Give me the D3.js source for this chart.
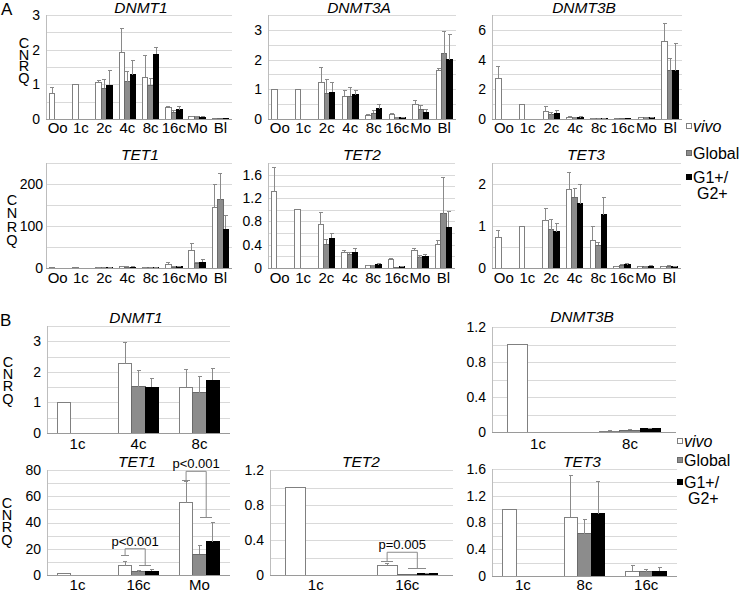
<!DOCTYPE html>
<html>
<head>
<meta charset="utf-8">
<title>CNRQ of DNMT and TET genes</title>
<script src="https://cdn.jsdelivr.net/npm/d3@7"></script>
<style>
    body { margin: 0; background: #fff; }
    text { font-family: 'Liberation Sans', Arial, sans-serif; fill: #000; }
    .grid line { stroke: #d9d9d9; shape-rendering: crispEdges; }
    .grid path, .yt path, .yt line, .xl path, .xl line { display: none; }
    .yt text { font-size: 14px; }
    .xl text { font-size: 15px; }
    .title { font-size: 15.5px; font-style: italic; }
    .cnrq { font-size: 14.5px; writing-mode: vertical-rl; text-orientation: upright; }
    .panel { font-size: 17px; }
    .leg { font-size: 16px; }
    .pval { font-size: 13px; }
    rect, line { shape-rendering: crispEdges; }
</style>
</head>
<body>
<script>
"use strict";
const series = ["vivo", "Global", "G1+/G2+"];

// panel A: stages, means per stage [vivo, Global, G1+/G2+] and SD
const aCats = ["Oo", "1c", "2c", "4c", "8c", "16c", "Mo", "Bl"];

const aDNMT1 = [[0.74], [1.0], [1.05, 0.88, 0.98], [1.92, 1.07, 1.27], [1.2, 0.98, 1.87], [0.34, 0.19, 0.26], [0.06, 0.07, 0.05], [0.01, 0.01, 0.01]];
const aDNMT1Sd = [[0.17], [0], [0.07, 0.26, 0.41], [0.69, 0.31, 0.41], [0.62, 0.19, 0.2], [0.03, 0.05, 0.11], [0.01, 0.01, 0.01], [0, 0, 0]];

const aDNMT3A = [[1.0], [1.0], [1.23, 0.87, 0.9], [0.77, 0.77, 0.82], [0.12, 0.19, 0.34], [0.15, 0.04, 0.04], [0.48, 0.32, 0.23], [1.64, 2.19, 1.99]];
const aDNMT3ASd = [[0], [0], [0.49, 0.46, 0.33], [0.2, 0.3, 0.15], [0.04, 0.1, 0.14], [0.05, 0.01, 0.01], [0.15, 0.13, 0.1], [0.07, 0.77, 0.84]];

const aDNMT3B = [[2.74], [1.0], [0.5, 0.27, 0.38], [0.12, 0.08, 0.1], [0.04, 0.04, 0.05], [0.02, 0.01, 0.01], [0.08, 0.1, 0.1], [5.25, 3.25, 3.25]];
const aDNMT3BSd = [[0.78], [0], [0.33, 0.16, 0.22], [0.03, 0.03, 0.04], [0.01, 0.01, 0.01], [0, 0, 0], [0.02, 0.03, 0.03], [1.2, 0.85, 1.85]];

const aTET1 = [[0.7], [1.0], [1.0, 1.2, 1.3], [2.5, 2.0, 1.5], [1.0, 1.5, 1.2], [9, 2, 3], [42, 11, 14], [144, 162, 92]];
const aTET1Sd = [[0], [0], [0.3, 0.3, 0.3], [1, 1, 1], [0.5, 0.5, 0.5], [5, 1, 1], [16, 2, 6], [56, 62, 32]];

const aTET2 = [[1.31], [1.0], [0.74, 0.41, 0.51], [0.26, 0.24, 0.27], [0.04, 0.04, 0.06], [0.15, 0.01, 0.02], [0.3, 0.18, 0.2], [0.41, 0.93, 0.7]];
const aTET2Sd = [[0.41], [0], [0.22, 0.08, 0.08], [0.04, 0.03, 0.06], [0.01, 0.01, 0.01], [0.01, 0, 0.01], [0.04, 0.03, 0.04], [0.07, 0.63, 0.27]];

const aTET3 = [[0.73], [1.0], [1.13, 0.91, 0.86], [1.86, 1.68, 1.53], [0.66, 0.54, 1.27], [0.03, 0.06, 0.08], [0.03, 0.03, 0.04], [0.03, 0.04, 0.03]];
const aTET3Sd = [[0.16], [0], [0.28, 0.25, 0.21], [0.41, 0.22, 0.47], [0.33, 0.07, 0.4], [0.01, 0.02, 0.03], [0.01, 0.01, 0.01], [0.01, 0.01, 0.01]];

// panel B
const bDNMT1Cats = ["1c", "4c", "8c"];
const bDNMT1 = [[1.0], [2.27, 1.51, 1.49], [1.5, 1.31, 1.72]];
const bDNMT1Sd = [[0], [0.69, 0.53, 0.3], [0.59, 0.55, 0.4]];

const bDNMT3BCats = ["1c", "8c"];
const bDNMT3B = [[1.0], [0.01, 0.02, 0.035]];
const bDNMT3BSd = [[0], [0.005, 0.005, 0.01]];

const bTET1Cats = ["1c", "16c", "Mo"];
const bTET1 = [[1.0], [7, 2.3, 3], [55, 16, 25.5]];
const bTET1Sd = [[0], [3, 1, 1.5], [16.5, 6.5, 14.5]];

const bTET2Cats = ["1c", "16c"];
const bTET2 = [[1.0], [0.11, 0.01, 0.015]];
const bTET2Sd = [[0], [0.02, 0, 0.005]];

const bTET3Cats = ["1c", "8c", "16c"];
const bTET3 = [[1.0], [0.88, 0.63, 0.93], [0.07, 0.06, 0.07]];
const bTET3Sd = [[0], [0.63, 0.21, 0.49], [0.08, 0.03, 0.05]];

// significance brackets: left leg (vivo), right leg (Global/G1+), bracket top
const bTET1Pvals = [
    { stage: "16c", left: 14.5, right: 7.6, top: 20, label: "p<0.001" },
    { stage: "Mo", left: 72, right: 44, top: 79, label: "p<0.001" }
];
const bTET2Pvals = [
    { stage: "16c", left: 0.16, right: 0.07, top: 0.26, label: "p=0.005" }
];

const fills = { "vivo": "#ffffff", "Global": "#8c8c8c", "G1+/G2+": "#000000" };
const strokes = { "vivo": "#808080", "Global": "#6a6a6a", "G1+/G2+": "#000000" };

const svg = d3.select("body").append("svg")
    .attr("width", 740)
    .attr("height", 592);

function fmt(d) { return String(+d.toFixed(2)); }

function drawPanel(c) {
    const g = svg.append("g");
    const x = d3.scaleBand().domain(c.cats).range([c.x0, c.x1]);
    const gw = x.bandwidth() * c.frac;
    const inner = d3.scaleBand().domain(series).range([0, gw]);
    const off = (x.bandwidth() - gw) / 2;
    const y = d3.scaleLinear().domain([0, c.max]).range([c.yBot, c.yTop]);

    const nGrid = Math.round(c.max / c.grid);
    g.append("g")
        .attr("class", "grid")
        .attr("transform", "translate(" + c.x0 + ",0)")
        .call(d3.axisLeft(y)
            .tickValues(d3.range(0, nGrid + 1).map(i => i * c.grid))
            .tickSize(-(c.x1 - c.x0)).tickFormat(""));

    const nTick = Math.floor(c.max / c.tick + 1e-9);
    g.append("g")
        .attr("class", "yt")
        .attr("transform", "translate(" + c.x0 + ",0)")
        .call(d3.axisLeft(y)
            .tickValues(d3.range(0, nTick + 1).map(i => i * c.tick))
            .tickSize(0).tickPadding(c.pad || 6).tickFormat(fmt));

    g.append("line")
        .attr("x1", c.x0).attr("x2", c.x0)
        .attr("y1", c.yTop).attr("y2", c.yBot)
        .attr("stroke", "#bdbdbd");

    const xa = g.append("g")
        .attr("class", "xl")
        .attr("transform", "translate(0," + c.yBot + ")")
        .call(d3.axisBottom(x).tickSize(0));
    xa.selectAll("text").attr("y", c.xLab - c.yBot).attr("dy", null);

    const flat = [];
    c.vals.forEach((row, i) => {
        row.forEach((v, j) => {
            if (v != null) flat.push({ cat: c.cats[i], s: series[j], v: v, sd: c.sds[i][j] || 0 });
        });
    });
    const bx = d => x(d.cat) + off + inner(d.s);
    const bw = inner.bandwidth();

    g.selectAll("rect.bar").data(flat).enter().append("rect")
        .attr("class", "bar")
        .attr("x", bx)
        .attr("y", d => y(d.v))
        .attr("width", bw)
        .attr("height", d => c.yBot - y(d.v))
        .attr("fill", d => fills[d.s])
        .attr("stroke", d => strokes[d.s])
        .attr("stroke-width", 1);

    const errs = flat.filter(d => d.sd > 0);
    g.selectAll("line.err").data(errs).enter().append("line")
        .attr("class", "err")
        .attr("x1", d => bx(d) + bw / 2).attr("x2", d => bx(d) + bw / 2)
        .attr("y1", d => y(d.v)).attr("y2", d => y(d.v + d.sd))
        .attr("stroke", "#8a8a8a");
    g.selectAll("line.cap").data(errs).enter().append("line")
        .attr("class", "cap")
        .attr("x1", d => bx(d) + bw / 2 - 2).attr("x2", d => bx(d) + bw / 2 + 2)
        .attr("y1", d => y(d.v + d.sd)).attr("y2", d => y(d.v + d.sd))
        .attr("stroke", "#8a8a8a");

    // bottom axis line
    g.append("line")
        .attr("x1", c.x0).attr("x2", c.x1)
        .attr("y1", c.yBot).attr("y2", c.yBot)
        .attr("stroke", "#9a9a9a");

    g.append("text")
        .attr("class", "title")
        .attr("x", c.titleX).attr("y", c.titleY)
        .attr("text-anchor", "middle")
        .text(c.title);

    (c.pvals || []).forEach(p => {
        const lx = x(p.stage) + off + inner("vivo") + bw / 2;
        const rx = x(p.stage) + off + inner("G1+/G2+");
        const path = d3.path();
        path.moveTo(lx, y(p.left));
        path.lineTo(lx, y(p.top));
        path.lineTo(rx, y(p.top));
        path.lineTo(rx, y(p.right));
        g.append("path").attr("d", path.toString())
            .attr("fill", "none").attr("stroke", "#8a8a8a");
        g.append("line")
            .attr("x1", lx - bw * 0.3).attr("x2", lx + bw * 0.3)
            .attr("y1", y(p.left)).attr("y2", y(p.left))
            .attr("stroke", "#8a8a8a");
        g.append("line")
            .attr("x1", rx - bw * 0.45).attr("x2", rx + bw * 0.45)
            .attr("y1", y(p.right)).attr("y2", y(p.right))
            .attr("stroke", "#8a8a8a");
        g.append("text")
            .attr("class", "pval")
            .attr("x", (lx + rx) / 2).attr("y", y(p.top) - 3)
            .attr("text-anchor", "middle")
            .text(p.label);
    });
}

// stacked (upright vertical) axis title
function cnrq(cx, top, spacing) {
    svg.append("text")
        .attr("class", "cnrq")
        .attr("x", cx).attr("y", top)
        .style("letter-spacing", spacing + "px")
        .text("CNRQ");
}

function legend(sx, tx, ys) {
    const g = svg.append("g");
    series.forEach((s, i) => {
        g.append("rect")
            .attr("x", sx).attr("y", ys[i] - 2.5)
            .attr("width", 5).attr("height", 5)
            .attr("fill", fills[s]).attr("stroke", strokes[s]);
    });
    g.append("text").attr("class", "leg").attr("x", tx).attr("y", ys[0])
        .attr("dominant-baseline", "central").style("font-style", "italic").text("vivo");
    g.append("text").attr("class", "leg").attr("x", tx).attr("y", ys[1])
        .attr("dominant-baseline", "central").text("Global");
    g.append("text").attr("class", "leg").attr("x", tx).attr("y", ys[2])
        .attr("dominant-baseline", "central").text("G1+/");
    g.append("text").attr("class", "leg").attr("x", tx + 4).attr("y", ys[3])
        .attr("dominant-baseline", "central").text("G2+");
}

// panel A
drawPanel({ cats: aCats, vals: aDNMT1, sds: aDNMT1Sd, x0: 46, x1: 232, yTop: 15, yBot: 119, max: 3, grid: 0.5, tick: 1, frac: 0.7, title: "DNMT1", titleX: 141, titleY: 13, xLab: 133 });
drawPanel({ cats: aCats, vals: aDNMT3A, sds: aDNMT3ASd, x0: 268, x1: 456, yTop: 15, yBot: 119, max: 3.5, grid: 0.5, tick: 1, frac: 0.7, title: "DNMT3A", titleX: 359, titleY: 13, xLab: 133 });
drawPanel({ cats: aCats, vals: aDNMT3B, sds: aDNMT3BSd, x0: 492, x1: 682, yTop: 15, yBot: 119, max: 7, grid: 1, tick: 2, frac: 0.7, title: "DNMT3B", titleX: 584, titleY: 13, xLab: 133 });
drawPanel({ cats: aCats, vals: aTET1, sds: aTET1Sd, x0: 46, x1: 232, yTop: 163, yBot: 268, max: 250, grid: 50, tick: 100, frac: 0.7, title: "TET1", titleX: 140, titleY: 160, xLab: 283, pad: 3 });
drawPanel({ cats: aCats, vals: aTET2, sds: aTET2Sd, x0: 268, x1: 455, yTop: 163, yBot: 268, max: 1.8, grid: 0.2, tick: 0.4, frac: 0.7, title: "TET2", titleX: 362, titleY: 160, xLab: 283 });
drawPanel({ cats: aCats, vals: aTET3, sds: aTET3Sd, x0: 492, x1: 681, yTop: 163, yBot: 268, max: 2.5, grid: 0.5, tick: 1, frac: 0.7, title: "TET3", titleX: 586, titleY: 160, xLab: 283 });

// panel B
drawPanel({ cats: bDNMT1Cats, vals: bDNMT1, sds: bDNMT1Sd, x0: 47, x1: 230, yTop: 326, yBot: 433, max: 3.5, grid: 0.5, tick: 1, frac: 0.66, title: "DNMT1", titleX: 136, titleY: 323, xLab: 449 });
drawPanel({ cats: bDNMT3BCats, vals: bDNMT3B, sds: bDNMT3BSd, x0: 492, x1: 676, yTop: 327, yBot: 432, max: 1.2, grid: 0.2, tick: 0.4, frac: 0.66, title: "DNMT3B", titleX: 582, titleY: 322, xLab: 449 });
drawPanel({ cats: bTET1Cats, vals: bTET1, sds: bTET1Sd, x0: 47, x1: 230, yTop: 470, yBot: 575, max: 80, grid: 10, tick: 20, frac: 0.66, title: "TET1", titleX: 137, titleY: 467, xLab: 590, pvals: bTET1Pvals });
drawPanel({ cats: bTET2Cats, vals: bTET2, sds: bTET2Sd, x0: 270, x1: 453, yTop: 470, yBot: 575, max: 1.2, grid: 0.2, tick: 0.4, frac: 0.66, title: "TET2", titleX: 361, titleY: 467, xLab: 590, pvals: bTET2Pvals });
drawPanel({ cats: bTET3Cats, vals: bTET3, sds: bTET3Sd, x0: 492, x1: 677, yTop: 469, yBot: 576, max: 1.6, grid: 0.2, tick: 0.4, frac: 0.66, title: "TET3", titleX: 582, titleY: 467, xLab: 590 });

// side labels
svg.append("text").attr("class", "panel").attr("x", 1).attr("y", 15).text("A");
svg.append("text").attr("class", "panel").attr("x", 0).attr("y", 326).text("B");
cnrq(24, 35, -4.3);
cnrq(12, 192, -2.7);
cnrq(8, 354, -3.8);
cnrq(7, 495, -3.8);

legend(686, 693, [126, 153, 177, 193]);
legend(677, 684, [441, 460, 482, 498]);
</script>
</body>
</html>
